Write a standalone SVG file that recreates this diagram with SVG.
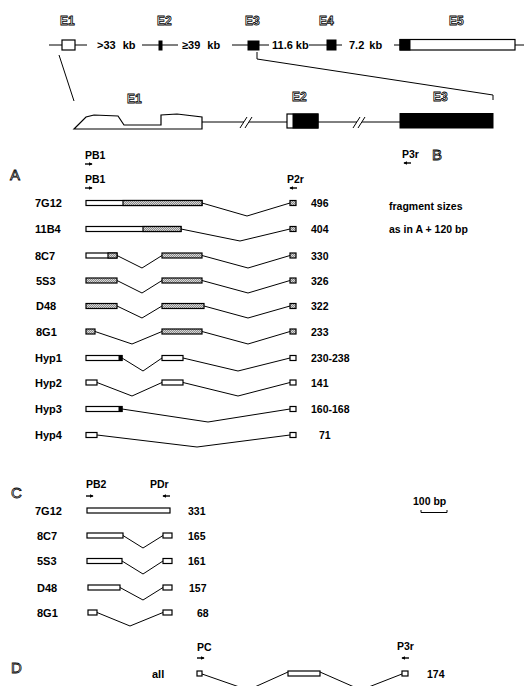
<svg xmlns="http://www.w3.org/2000/svg" width="524" height="686" viewBox="0 0 524 686">
<style>
.t{font-family:"Liberation Sans",Arial,sans-serif;font-weight:bold;font-size:11px;fill:#000}
.s{font-family:"Liberation Sans",Arial,sans-serif;font-weight:bold;font-size:10.5px;fill:#000}
.ol{font-family:"Liberation Sans",Arial,sans-serif;font-weight:bold;font-size:12px;fill:#fff;stroke:#000;stroke-width:0.8}
.big{font-family:"Liberation Sans",Arial,sans-serif;font-size:15px;fill:#fff;stroke:#000;stroke-width:0.8}
.ln{stroke:#000;stroke-width:1;fill:none}
.bx{fill:#fff;stroke:#000;stroke-width:1.2}
.hb{fill:url(#hatch);stroke:#000;stroke-width:1.2}
.fb{fill:#000;stroke:#000;stroke-width:1}
.pr{stroke:#000;stroke-width:1.4;fill:none}
</style>
<defs>
<pattern id="hatch" patternUnits="userSpaceOnUse" width="2" height="2">
<rect width="2" height="2" fill="#d8d8d8"/>
<path d="M0,2 L2,0" stroke="#555" stroke-width="0.6"/>
</pattern>
<marker id="ah" viewBox="0 0 6 6" refX="5" refY="3" markerUnits="userSpaceOnUse" markerWidth="4" markerHeight="4" orient="auto">
<path d="M0,0 L6,3 L0,6 z" fill="#000"/>
</marker>
</defs>
<rect width="524" height="686" fill="#fff"/>

<!-- top gene map -->
<g id="genemap">
<text class="ol" x="60" y="25">E1</text>
<text class="ol" x="157" y="25">E2</text>
<text class="ol" x="245" y="25">E3</text>
<text class="ol" x="319" y="25">E4</text>
<text class="ol" x="449" y="25">E5</text>
<path class="ln" d="M49,45 H62 M75,45 H87 M142,45 H178 M232,45 H269 M309,45 H342 M394,45 H400 M515,45 H524"/>
<rect class="bx" x="62" y="40" width="13" height="10"/>
<rect class="fb" x="159" y="41" width="3" height="9"/>
<rect class="fb" x="248" y="41" width="11" height="9"/>
<rect class="fb" x="327" y="40" width="9" height="10"/>
<rect class="bx" x="400" y="39.5" width="115" height="10.5"/>
<rect class="fb" x="400" y="39.5" width="10" height="10.5"/>
<text class="t" x="97" y="49" word-spacing="4">&gt;33 kb</text>
<text class="t" x="182" y="49" word-spacing="4">≥39 kb</text>
<text class="t" x="272" y="49">11.6 kb</text>
<text class="t" x="349" y="49" word-spacing="2">7.2 kb</text>
</g>

<!-- exon detail -->
<g id="exondetail">
<text class="ol" x="127" y="103">E1</text>
<text class="ol" x="292" y="101">E2</text>
<text class="ol" x="433" y="101">E3</text>
<path class="bx" d="M74,129 L86,117 L94,115 L118,116 L124,125 L161,125 L161,115 L177,114 L202,117 L202,129 Z"/>
<path class="ln" d="M202,122 H244 M249,122 H287 M318,122 H357 M362,122 H400"/>
<path class="ln" d="M240,128 L247,117 M245,128 L252,117 M353,128 L360,117 M358,128 L365,117"/>
<rect class="bx" x="287" y="114" width="31" height="14"/>
<rect class="fb" x="293" y="114" width="25" height="14"/>
<rect class="fb" x="400" y="113.5" width="93" height="14.5"/>
</g>

<!-- primers and panel letters -->
<g id="primersA">
<text class="big" x="10" y="180">A</text>
<text class="big" x="432" y="160">B</text>
<text class="s" x="85" y="159">PB1</text>
<path class="pr" d="M85,164 H92" marker-end="url(#ah)"/>
<text class="s" x="85" y="183">PB1</text>
<path class="pr" d="M85,188 H92" marker-end="url(#ah)"/>
<text class="s" x="287" y="183">P2r</text>
<path class="pr" d="M297,188 H290" marker-end="url(#ah)"/>
<text class="s" x="402" y="158">P3r</text>
<path class="pr" d="M411,163 H404" marker-end="url(#ah)"/>
<text class="s" x="389" y="210">fragment sizes</text>
<text class="s" x="389" y="233">as in A + 120 bp</text>
</g>

<!-- connectors -->
<g id="connectors" class="ln">
<path d="M59,55 L74,101"/>
<path d="M257,52 V59 L493,95 V100"/>
<path d="M202,203 L247,216 L290,203"/>
<path d="M181,229 L240,241 L290,229"/>
<path d="M117,255.5 L142,268 L162,255.5 M202,255.5 L248,268 L290,255.5"/>
<path d="M117,280.5 L142,293 L162,280.5 M202,280.5 L248,293 L290,280.5"/>
<path d="M117,306 L142,318 L162,306 M204,306 L248,318 L290,306"/>
<path d="M95,331.5 L132,344 L162,331.5 M202,331.5 L248,344 L290,331.5"/>
<path d="M122,358 L143,371 L162,358 M183,358 L238,371 L290,358"/>
<path d="M97,382.5 L132,396 L162,382.5 M183,382.5 L238,396 L290,382.5"/>
<path d="M122,409 L208,422 L290,409"/>
<path d="M97,435 L197,447 L290,435"/>
<path d="M123,535.5 L143,548 L163,535.5"/>
<path d="M122,561 L143,574 L163,561"/>
<path d="M120,587.5 L143,600 L163,587.5"/>
<path d="M97,612.5 L130,626 L163,612.5"/>
<path d="M202,674 L248,690 L288,672"/>
<path d="M320,672 L361,690 L402,674"/>
</g>

<!-- panel A rows -->
<g id="A-7G12">
<text class="t" x="35" y="207">7G12</text>
<rect class="bx" x="86" y="200.5" width="116" height="5"/>
<rect class="hb" x="123" y="200.5" width="79" height="5"/>
<rect class="hb" x="290" y="200.5" width="6" height="5"/>
<text class="s" x="311" y="207">496</text>
</g>
<g id="A-11B4">
<text class="t" x="35" y="233">11B4</text>
<rect class="bx" x="86" y="226.5" width="95" height="5"/>
<rect class="hb" x="143" y="226.5" width="38" height="5"/>
<rect class="hb" x="290" y="226.5" width="6" height="5"/>
<text class="s" x="311" y="233">404</text>
</g>
<g id="A-8C7">
<text class="t" x="35" y="259.5">8C7</text>
<rect class="bx" x="86" y="253" width="31" height="5"/>
<rect class="hb" x="108" y="253" width="9" height="5"/>
<rect class="hb" x="162" y="253" width="40" height="5"/>
<rect class="hb" x="290" y="253" width="6" height="5"/>
<text class="s" x="311" y="259.5">330</text>
</g>
<g id="A-5S3">
<text class="t" x="36" y="284.5">5S3</text>
<rect class="hb" x="86" y="278" width="31" height="5"/>
<rect class="hb" x="162" y="278" width="40" height="5"/>
<rect class="hb" x="290" y="278" width="6" height="5"/>
<text class="s" x="311" y="284.5">326</text>
</g>
<g id="A-D48">
<text class="t" x="36" y="310">D48</text>
<rect class="hb" x="86" y="303.5" width="31" height="5"/>
<rect class="hb" x="162" y="303.5" width="42" height="5"/>
<rect class="hb" x="290" y="303.5" width="6" height="5"/>
<text class="s" x="311" y="310">322</text>
</g>
<g id="A-8G1">
<text class="t" x="36" y="335.5">8G1</text>
<rect class="hb" x="86" y="329" width="9" height="5"/>
<rect class="hb" x="162" y="329" width="40" height="5"/>
<rect class="hb" x="290" y="329" width="6" height="5"/>
<text class="s" x="311" y="335.5">233</text>
</g>
<g id="A-Hyp1">
<text class="t" x="35" y="362">Hyp1</text>
<rect class="bx" x="86" y="355.5" width="36" height="5"/>
<rect class="fb" x="119" y="355.5" width="3" height="5"/>
<rect class="bx" x="162" y="355.5" width="21" height="5"/>
<rect class="bx" x="290" y="355.5" width="6" height="5"/>
<text class="s" x="311" y="362">230-238</text>
</g>
<g id="A-Hyp2">
<text class="t" x="35" y="386.5">Hyp2</text>
<rect class="bx" x="86" y="380" width="11" height="5"/>
<rect class="bx" x="162" y="380" width="21" height="5"/>
<rect class="bx" x="290" y="380" width="6" height="5"/>
<text class="s" x="311" y="386.5">141</text>
</g>
<g id="A-Hyp3">
<text class="t" x="35" y="413">Hyp3</text>
<rect class="bx" x="86" y="406.5" width="36" height="5"/>
<rect class="fb" x="119" y="406.5" width="3" height="5"/>
<rect class="bx" x="290" y="406.5" width="6" height="5"/>
<text class="s" x="311" y="413">160-168</text>
</g>
<g id="A-Hyp4">
<text class="t" x="35" y="439">Hyp4</text>
<rect class="bx" x="86" y="432.5" width="11" height="5"/>
<rect class="bx" x="290" y="432.5" width="6" height="5"/>
<text class="s" x="319" y="439">71</text>
</g>

<!-- panel C -->
<g id="primersC">
<text class="big" x="11" y="498">C</text>
<text class="s" x="86" y="488">PB2</text>
<path class="pr" d="M86,496 H93" marker-end="url(#ah)"/>
<text class="s" x="150" y="488">PDr</text>
<path class="pr" d="M170,496 H163" marker-end="url(#ah)"/>
</g>
<g id="scalebar">
<text class="s" x="413" y="505">100 bp</text>
<path class="ln" d="M421,510 V512.5 H447 V510" stroke-width="1.2"/>
</g>
<g id="C-7G12">
<text class="t" x="35" y="514.5">7G12</text>
<rect class="bx" x="87" y="508" width="83" height="5"/>
<text class="s" x="188" y="514.5">331</text>
</g>
<g id="C-8C7">
<text class="t" x="37" y="539.5">8C7</text>
<rect class="bx" x="87" y="533" width="36" height="5"/>
<rect class="bx" x="163" y="533" width="9" height="5"/>
<text class="s" x="188" y="539.5">165</text>
</g>
<g id="C-5S3">
<text class="t" x="37" y="565">5S3</text>
<rect class="bx" x="87" y="558.5" width="35" height="5"/>
<rect class="bx" x="163" y="558.5" width="9" height="5"/>
<text class="s" x="188" y="565">161</text>
</g>
<g id="C-D48">
<text class="t" x="37" y="591.5">D48</text>
<rect class="bx" x="88" y="585" width="32" height="5"/>
<rect class="bx" x="163" y="585" width="9" height="5"/>
<text class="s" x="189" y="591.5">157</text>
</g>
<g id="C-8G1">
<text class="t" x="37" y="616.5">8G1</text>
<rect class="bx" x="88" y="610" width="9" height="5"/>
<rect class="bx" x="163" y="610" width="9" height="5"/>
<text class="s" x="197" y="616.5">68</text>
</g>

<!-- panel D -->
<g id="D-all">
<text class="big" x="11" y="673">D</text>
<text class="s" x="197" y="651">PC</text>
<path class="pr" d="M197,658 H204" marker-end="url(#ah)"/>
<text class="s" x="397" y="650">P3r</text>
<path class="pr" d="M409,658 H402" marker-end="url(#ah)"/>
<text class="t" x="152" y="678">all</text>
<rect class="bx" x="197" y="671" width="5" height="5"/>
<rect class="bx" x="288" y="671" width="32" height="5"/>
<rect class="bx" x="402" y="671" width="6" height="5"/>
<text class="s" x="427" y="678">174</text>
</g>
</svg>
